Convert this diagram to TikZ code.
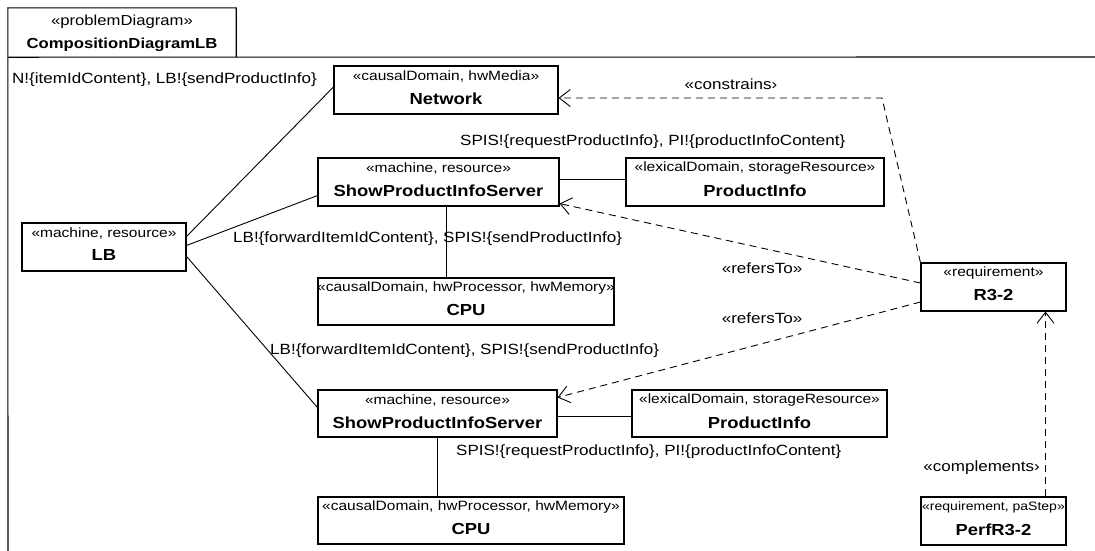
\documentclass[tikz,border=0pt]{standalone}
\usepackage{fontspec}
\setmainfont{Liberation Sans}[FakeStretch=1.15]
\usetikzlibrary{arrows.meta,calc,fit}

\tikzset{
  umlbox/.style={draw, line width=1.1pt, fill=white, inner sep=0pt},
  stereo/.style={inner sep=0pt, font=\fontsize{13.5}{15}\selectfont},
  title/.style={inner sep=0pt, font=\fontsize{16}{18}\selectfont\bfseries},
  flow/.style={inner sep=0pt, font=\fontsize{14.8}{16}\selectfont},
  link/.style={line width=0.9pt},
  dep/.style={line width=0.9pt, dash pattern=on 7pt off 5pt,
    -{Straight Barb[length=11pt,width=17pt,line width=0.9pt]}},
  frameline/.style={line width=1.1pt}
}

% class-like box: name, x1, y1, x2, y2, stereotype, title
\newcommand{\umlbox}[7]{%
  \node[umlbox, fit={(#2,#3) (#4,#5)}] (#1) {};
  \node[stereo] (#1-st) at ($(#1.north)+(0,11)$) {#6};
  \node[title] (#1-ti) at ($(#1.north)+(0,33)$) {#7};
}

\begin{document}
\begin{tikzpicture}[x=1pt, y=-1pt]
\useasboundingbox (0,0) rectangle (1095,550);

% diagram frame with its name tab
\node[inner sep=0pt, fit={(8,8) (236,57)}] (tab) {};
\draw[frameline] (8,552) -- (tab.north west) -- (tab.north east) -- (tab.south east);
\draw[frameline] (tab.south west) -- (1097,57);
\node[inner sep=0pt, font=\fontsize{14.5}{16}\selectfont] (tab-st) at ($(tab.north)+(0,14)$) {«problemDiagram»};
\node[inner sep=0pt, font=\fontsize{14.5}{16}\selectfont\bfseries] (tab-ti) at ($(tab.north)+(0,37)$) {CompositionDiagramLB};

% boxes
\umlbox{net}{334}{66}{558}{114}{«causalDomain, hwMedia»}{Network}
\umlbox{spisa}{318}{158}{559}{206}{«machine, resource»}{ShowProductInfoServer}
\umlbox{pia}{626}{158}{884}{206}{«lexicalDomain, storageResource»}{ProductInfo}
\umlbox{lb}{22}{223}{186}{271}{«machine, resource»}{LB}
\umlbox{cpua}{318}{278}{614}{325}{«causalDomain, hwProcessor, hwMemory»}{CPU}
\umlbox{req}{921}{263}{1066}{311}{«requirement»}{R3-2}
\umlbox{spisb}{318}{390}{557}{437}{«machine, resource»}{ShowProductInfoServer}
\umlbox{pib}{632}{390}{887}{437}{«lexicalDomain, storageResource»}{ProductInfo}
\umlbox{cpub}{318}{497}{624}{544}{«causalDomain, hwProcessor, hwMemory»}{CPU}
\umlbox{perf}{921}{497}{1066}{545}{\fontsize{12.2}{14}\selectfont«requirement, paStep»}{PerfR3-2}

% interface links
\draw[link] ($(lb.north east)+(0,14)$) -- ($(net.west)+(0,-3)$);
\draw[link] ($(lb.north east)+(0,23)$) -- ($(spisa.south west)+(0,-11)$);
\draw[link] ($(lb.north east)+(0,34)$) -- ($(spisb.north west)+(0,18)$);
\draw[link] ($(spisa.east)+(0,-3)$) -- ($(pia.west)+(0,-3)$);
\coordinate (cpuatop) at ($(spisa.south)+(8,0)$);
\draw[link] (cpuatop) -- (cpuatop |- cpua.north);
\draw[link] ($(spisb.east)+(0,3)$) -- ($(pib.west)+(0,3)$);
\draw[link] (spisb.south) -- (spisb.south |- cpub.north);

% dependencies
\coordinate (bend) at (882,98);
\draw[dep] (req.north west) -- (bend) -- (bend -| net.east);
\draw[dep] ($(req.west)+(0,-4)$) -- ($(spisa.south east)+(0,-3)$);
\draw[dep] ($(req.west)+(0,15)$) -- ($(spisb.north east)+(0,8)$);
\draw[dep] ($(perf.north)+(52,0)$) -- ($(req.south)+(52,0)$);

% interface and dependency labels
\node[flow, anchor=west] (l-net) at (12,80) {N!\{itemIdContent\}, LB!\{sendProductInfo\}};
\node[flow] (l-con) at (731,84) {«constrains›};
\node[flow, anchor=west] (l-pia) at (460,142) {SPIS!\{requestProductInfo\}, PI!\{productInfoContent\}};
\node[flow, anchor=west] (l-spa) at (233,239) {LB!\{forwardItemIdContent\}, SPIS!\{sendProductInfo\}};
\node[flow] (l-ref1) at (762,268) {«refersTo»};
\node[flow] (l-ref2) at (762,318) {«refersTo»};
\node[flow, anchor=west] (l-spb) at (270,351) {LB!\{forwardItemIdContent\}, SPIS!\{sendProductInfo\}};
\node[flow, anchor=west] (l-pib) at (456,452) {SPIS!\{requestProductInfo\}, PI!\{productInfoContent\}};
\node[flow, anchor=east] (l-comp) at (1040,468) {«complements›};
\end{tikzpicture}
\end{document}
